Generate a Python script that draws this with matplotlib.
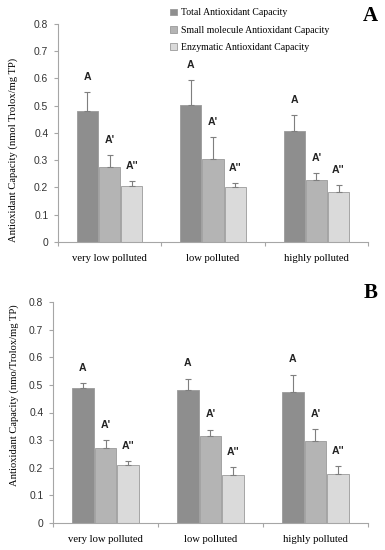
import numpy as np
import matplotlib
matplotlib.use("Agg")
import matplotlib.pyplot as plt
import matplotlib.patches as mpatches

# ── data ────────────────────────────────────────────────────────────────
sites = ["very low polluted", "low polluted", "highly polluted"]
series = ["Total Antioxidant Capacity",
          "Small molecule Antioxidant Capacity",
          "Enzymatic Antioxidant Capacity"]
letters = ["A", "A'", "A''"]

# panel A
a_total = [0.480, 0.503, 0.408]
a_total_err = [0.070, 0.092, 0.059]
a_small = [0.275, 0.303, 0.227]
a_small_err = [0.045, 0.082, 0.028]
a_enz = [0.207, 0.200, 0.182]
a_enz_err = [0.016, 0.017, 0.028]

# panel B
b_total = [0.487, 0.482, 0.475]
b_total_err = [0.018, 0.041, 0.062]
b_small = [0.272, 0.315, 0.298]
b_small_err = [0.028, 0.023, 0.042]
b_enz = [0.210, 0.172, 0.177]
b_enz_err = [0.015, 0.031, 0.028]

yticks = [0, 0.1, 0.2, 0.3, 0.4, 0.5, 0.6, 0.7, 0.8]
ylabel_a = "Antioxidant Capacity (nmol Trolox/mg TP)"
ylabel_b = "Antioxidant Capacity (nmo/Trolox/mg TP)"

# ── style ───────────────────────────────────────────────────────────────
COLORS = ["#8e8e8e", "#b4b4b4", "#dadada"]
EDGE = "#9a9a9a"
AXC = "#a6a6a6"
SERIF = "Liberation Serif"
SANS = "Liberation Sans"

fig = plt.figure(figsize=(3.85, 5.5), dpi=100, facecolor="white")
axA = fig.add_axes([0.1506, 0.560, 0.8052, 0.3964])
axB = fig.add_axes([0.1377, 0.0491, 0.8181, 0.4018])

W = 0.205
OFF = [-0.215, 0.0, 0.215]


def panel(ax, vals, errs, ylabel):
    x = np.arange(len(sites))
    for k in range(3):
        ax.bar(x + OFF[k], vals[k], W, color=COLORS[k], edgecolor=EDGE,
               lw=0.6, zorder=2)
        ax.errorbar(x + OFF[k], vals[k], yerr=[np.zeros(3), errs[k]],
                    fmt="none", ecolor="#7f7f7f", elinewidth=0.8,
                    capsize=2.2, capthick=0.8, zorder=3)
        for i in range(3):
            ax.text(x[i] + OFF[k], vals[k][i] + errs[k][i] + 0.055, letters[k],
                    ha="center", va="center", fontsize=7.6,
                    fontweight="bold", family=SANS, color="#222222")
    ax.set_xlim(-0.5, 2.5)
    ax.set_ylim(0, 0.8)
    ax.set_yticks(yticks)
    ax.set_yticklabels(["0"] + [f"{t:.1f}" for t in yticks[1:]],
                       fontsize=7.4, family=SANS, color="#333333")
    ax.set_xticks([-0.5, 0.5, 1.5, 2.5])
    ax.set_xticklabels([])
    ax.set_xticks(x, minor=True)
    ax.set_xticklabels(sites, minor=True, fontsize=7.7, family=SERIF)
    ax.tick_params(axis="x", which="minor", length=0, pad=9)
    ax.tick_params(axis="x", which="major", length=3, color=AXC, width=0.8)
    ax.tick_params(axis="y", length=3, color=AXC, width=0.8, pad=4)
    for s in ["top", "right"]:
        ax.spines[s].set_visible(False)
    for s in ["left", "bottom"]:
        ax.spines[s].set_color(AXC)
        ax.spines[s].set_linewidth(0.8)
    ax.set_ylabel(ylabel, fontsize=7.6, family=SERIF, labelpad=6)


panel(axA, [a_total, a_small, a_enz], [a_total_err, a_small_err, a_enz_err], ylabel_a)
panel(axB, [b_total, b_small, b_enz], [b_total_err, b_small_err, b_enz_err], ylabel_b)
axA.yaxis.set_label_coords(-0.128, 0.422)
axB.yaxis.set_label_coords(-0.108, 0.577)

handles = [mpatches.Patch(facecolor=COLORS[k], edgecolor=EDGE, lw=0.6, label=series[k])
           for k in range(3)]
fig.legend(handles=handles, loc="upper left", bbox_to_anchor=(0.425, 0.997),
           frameon=False, prop={"family": SERIF, "size": 7.0},
           handlelength=0.7, handleheight=0.7, handletextpad=0.35,
           labelspacing=0.85, borderaxespad=0.3)

fig.text(0.962, 0.971, "A", fontsize=15, fontweight="bold", family=SERIF,
         ha="center", va="center")
fig.text(0.962, 0.467, "B", fontsize=15, fontweight="bold", family=SERIF,
         ha="center", va="center")

fig.savefig("out.png", dpi=100, facecolor="white")
